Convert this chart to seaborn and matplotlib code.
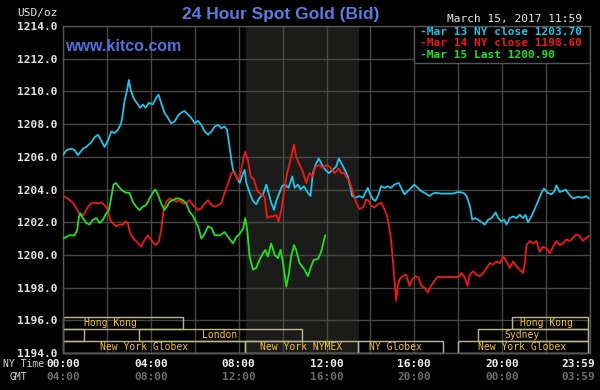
import matplotlib
matplotlib.use('Agg')
import matplotlib.pyplot as plt
import matplotlib.transforms as mtransforms
from matplotlib.patches import Rectangle
import seaborn as sns
import pandas as pd

# ---------------- data (NY time in decimal hours, price USD/oz) ----------------
mar13_hours = [0.00, 0.15, 0.38, 0.53, 0.68, 0.91, 1.06, 1.29, 1.44, 1.59, 1.74, 1.89, 2.05, 2.20, 2.35,
               2.50, 2.65, 2.73, 2.80, 2.92, 3.00, 3.08, 3.21, 3.36, 3.52, 3.64, 3.76, 3.91, 4.09, 4.24,
               4.35, 4.47, 4.62, 4.77, 4.92, 5.08, 5.23, 5.38, 5.53, 5.68, 5.83, 6.00, 6.15, 6.30, 6.45,
               6.61, 6.76, 6.91, 7.06, 7.21, 7.36, 7.47, 7.56, 7.67, 7.74, 7.89, 8.05, 8.20, 8.27, 8.35,
               8.50, 8.65, 8.80, 8.95, 9.11, 9.26, 9.36, 9.48, 9.61, 9.71, 9.86, 9.97, 10.12, 10.27, 10.44,
               10.55, 10.70, 10.82, 10.97, 11.15, 11.27, 11.38, 11.53, 11.65, 11.80, 11.95, 12.11, 12.44,
               12.56, 12.72, 12.87, 12.97, 13.08, 13.17, 13.32, 13.50, 13.66, 13.81, 13.88, 13.99, 14.11,
               14.23, 14.34, 14.49, 14.64, 14.79, 14.94, 15.09, 15.29, 15.40, 15.55, 15.70, 15.85, 16.00,
               16.16, 16.31, 16.53, 16.69, 16.84, 16.99, 17.22, 17.44, 17.75, 18.00, 18.23, 18.38, 18.53,
               18.64, 18.76, 18.91, 19.06, 19.21, 19.36, 19.52, 19.70, 19.82, 19.97, 20.09, 20.20, 20.35,
               20.50, 20.65, 20.80, 20.95, 21.06, 21.18, 21.33, 21.48, 21.64, 21.79, 21.91, 22.06, 22.24,
               22.36, 22.47, 22.62, 22.77, 22.89, 23.05, 23.23, 23.45, 23.68, 23.83, 23.95]
mar13_price = [1206.1, 1206.4, 1206.5, 1206.4, 1206.1, 1206.5, 1206.6, 1206.9, 1207.2, 1207.35, 1207.0,
               1206.6, 1207.0, 1207.55, 1207.45, 1207.65, 1208.05, 1208.7, 1209.4, 1210.1, 1210.7, 1210.1,
               1209.6, 1209.3, 1209.0, 1209.2, 1209.0, 1209.3, 1209.2, 1209.6, 1209.8, 1209.3, 1208.7,
               1208.4, 1208.05, 1208.15, 1208.5, 1208.7, 1208.8, 1208.6, 1208.4, 1208.05, 1208.2, 1207.95,
               1207.55, 1207.35, 1207.55, 1207.85, 1207.95, 1207.75, 1207.85, 1207.65, 1206.85, 1205.8,
               1205.2, 1204.8, 1204.4, 1205.0, 1205.2, 1204.4, 1203.8, 1203.3, 1203.1, 1203.5, 1203.7,
               1204.3, 1203.8, 1203.2, 1202.75, 1203.3, 1203.8, 1204.2, 1204.3, 1204.1, 1204.8, 1204.1,
               1204.3, 1204.0, 1204.2, 1203.8, 1203.6, 1205.0, 1205.6, 1205.9, 1205.5, 1205.2, 1205.0,
               1205.4, 1205.9, 1205.5, 1205.1, 1204.8, 1204.2, 1203.6, 1203.5, 1203.6, 1203.5, 1203.9,
               1204.1, 1203.7, 1203.4, 1203.3, 1203.6, 1204.2, 1204.1, 1204.2, 1204.1, 1204.3, 1204.4,
               1204.1, 1203.7, 1203.9, 1204.1, 1204.3, 1204.1, 1203.9, 1203.75, 1203.6, 1203.75, 1203.8,
               1203.75, 1203.75, 1203.75, 1203.85, 1203.8, 1203.6, 1203.0, 1202.15, 1202.25, 1202.15,
               1202.0, 1201.85, 1202.15, 1202.25, 1202.6, 1202.25, 1202.05, 1202.15, 1201.85, 1202.25,
               1202.35, 1202.25, 1202.45, 1202.25, 1202.45, 1202.0, 1202.35, 1202.8, 1203.3, 1203.8,
               1204.05, 1203.8, 1203.7, 1203.85, 1204.25, 1203.85, 1203.9, 1204.0, 1203.7, 1203.45,
               1203.55, 1203.5, 1203.6, 1203.45]

mar14_hours = [0.00, 0.15, 0.30, 0.45, 0.61, 0.76, 0.88, 0.98, 1.14, 1.29, 1.44, 1.59, 1.74, 1.89, 2.05,
               2.15, 2.27, 2.42, 2.58, 2.73, 2.85, 2.95, 3.06, 3.21, 3.36, 3.56, 3.71, 3.86, 4.02, 4.21,
               4.36, 4.47, 4.58, 4.70, 4.85, 5.00, 5.15, 5.30, 5.45, 5.61, 5.76, 5.91, 6.15, 6.30, 6.45,
               6.61, 6.76, 6.91, 7.06, 7.21, 7.36, 7.52, 7.67, 7.82, 7.94, 8.05, 8.20, 8.30, 8.42, 8.55,
               8.70, 8.85, 9.03, 9.18, 9.30, 9.41, 9.56, 9.71, 9.82, 9.94, 10.06, 10.21, 10.39, 10.52,
               10.62, 10.77, 10.92, 11.08, 11.23, 11.38, 11.50, 11.68, 11.83, 11.98, 12.14, 12.37, 12.44,
               12.56, 12.67, 12.82, 12.93, 13.02, 13.12, 13.23, 13.35, 13.50, 13.66, 13.81, 13.93, 14.03,
               14.19, 14.34, 14.49, 14.64, 14.75, 14.84, 14.94, 15.02, 15.09, 15.17, 15.25, 15.32, 15.47,
               15.62, 15.78, 15.90, 16.05, 16.20, 16.31, 16.46, 16.61, 16.76, 16.91, 17.06, 17.37, 17.75,
               18.00, 18.15, 18.30, 18.42, 18.53, 18.68, 18.83, 18.98, 19.14, 19.29, 19.44, 19.59, 19.74,
               19.89, 20.05, 20.20, 20.35, 20.50, 20.65, 20.80, 20.95, 21.03, 21.11, 21.26, 21.41, 21.56,
               21.71, 21.86, 22.02, 22.17, 22.32, 22.47, 22.62, 22.77, 22.92, 23.08, 23.23, 23.38, 23.53,
               23.68, 23.83, 23.95]
mar14_price = [1203.6, 1203.5, 1203.35, 1203.2, 1202.85, 1202.45, 1202.35, 1202.55, 1202.95, 1203.15,
               1203.2, 1203.15, 1203.2, 1203.05, 1202.75, 1202.15, 1201.95, 1201.75, 1201.85, 1201.85,
               1202.05, 1201.95, 1201.3, 1201.0, 1200.8, 1200.5, 1200.9, 1201.2, 1200.9, 1200.6, 1200.8,
               1201.5, 1202.75, 1203.25, 1203.45, 1203.35, 1203.25, 1203.35, 1203.15, 1203.15, 1203.35,
               1203.05, 1202.75, 1202.85, 1203.15, 1203.35, 1203.05, 1202.95, 1203.05, 1203.15, 1203.8,
               1204.4, 1205.0, 1205.1, 1204.6, 1204.7, 1205.8, 1206.3, 1205.8, 1204.8, 1204.6, 1203.9,
               1203.7, 1203.55, 1202.25, 1202.35, 1202.35, 1202.45, 1202.05, 1202.75, 1203.8, 1205.0,
               1206.0, 1206.75, 1206.0, 1205.5, 1205.1, 1204.4, 1205.0, 1204.8, 1205.4, 1205.5, 1205.3,
               1205.5, 1205.4, 1205.0, 1205.1, 1205.3, 1205.0, 1205.0, 1204.7, 1204.6, 1204.2, 1203.7,
               1203.2, 1202.8, 1202.9, 1203.4, 1203.3, 1203.0, 1202.9, 1203.1, 1203.2, 1202.8, 1202.4,
               1201.8, 1200.95, 1199.7, 1198.5, 1197.2, 1198.1, 1198.5, 1198.7, 1198.8, 1198.1, 1198.5,
               1198.7, 1198.6, 1198.1, 1198.0, 1197.7, 1198.1, 1198.4, 1198.65, 1198.65, 1198.65, 1198.65,
               1198.9, 1198.6, 1198.1, 1198.8, 1199.0, 1198.8, 1198.7, 1198.9, 1199.2, 1199.5, 1199.4,
               1199.6, 1199.5, 1199.9, 1199.6, 1199.2, 1199.6, 1199.3, 1199.1, 1198.9, 1199.5, 1200.6,
               1200.85, 1200.7, 1200.85, 1200.2, 1200.5, 1200.4, 1200.1, 1200.5, 1200.85, 1200.6, 1200.7,
               1200.95, 1200.85, 1201.05, 1201.25, 1201.15, 1200.85, 1201.05, 1201.15]

mar15_hours = [0.00, 0.15, 0.30, 0.53, 0.64, 0.73, 0.79, 0.91, 1.06, 1.21, 1.36, 1.52, 1.67, 1.82, 1.97,
               2.09, 2.20, 2.30, 2.42, 2.58, 2.73, 2.88, 3.03, 3.18, 3.33, 3.48, 3.64, 3.79, 3.94, 4.09,
               4.20, 4.32, 4.47, 4.62, 4.73, 4.85, 5.00, 5.15, 5.30, 5.45, 5.61, 5.76, 5.91, 6.15, 6.30,
               6.45, 6.61, 6.76, 6.91, 7.14, 7.36, 7.52, 7.74, 7.89, 8.05, 8.20, 8.30, 8.39, 8.50, 8.65,
               8.80, 8.95, 9.11, 9.21, 9.33, 9.48, 9.64, 9.79, 9.91, 10.02, 10.17, 10.29, 10.39, 10.52,
               10.62, 10.77, 11.00, 11.15, 11.30, 11.42, 11.61, 11.76, 11.94]
mar15_price = [1201.0, 1201.1, 1201.2, 1201.2, 1201.5, 1202.35, 1202.55, 1202.25, 1201.95, 1201.85,
               1202.15, 1202.25, 1201.95, 1202.15, 1202.55, 1202.75, 1203.55, 1204.3, 1204.4, 1204.1,
               1203.9, 1203.8, 1203.8, 1203.25, 1202.95, 1202.75, 1202.95, 1203.05, 1203.45, 1203.8,
               1204.0, 1203.7, 1203.15, 1202.75, 1202.95, 1203.25, 1203.35, 1203.45, 1203.45, 1203.35,
               1203.15, 1202.65, 1202.4, 1201.75, 1201.0, 1201.3, 1201.75, 1201.65, 1201.2, 1201.2,
               1201.4, 1201.1, 1200.7, 1201.1, 1201.3, 1201.6, 1202.25, 1201.5, 1199.9, 1199.1, 1199.2,
               1199.7, 1200.1, 1200.3, 1199.9, 1200.7, 1200.0, 1199.8, 1200.3, 1199.5, 1198.05, 1198.9,
               1199.9, 1200.6, 1200.3, 1199.5, 1199.1, 1198.7, 1199.3, 1199.7, 1199.75, 1200.2, 1201.2]

series_names = ['Mar 13', 'Mar 14', 'Mar 15']
series_colors = ['#22c4e8', '#f01818', '#22e022']
legend_labels = ['-Mar 13 NY close 1203.70', '-Mar 14 NY close 1198.60', '-Mar 15 Last 1200.90']

y_ticks = [1194, 1196, 1198, 1200, 1202, 1204, 1206, 1208, 1210, 1212, 1214]
ny_tick_hours = [0, 4, 8, 12, 16, 20, 23.45]
ny_tick_labels = ['00:00', '04:00', '08:00', '12:00', '16:00', '20:00', '23:59']
gmt_tick_labels = ['04:00', '08:00', '12:00', '16:00', '20:00', '00:00', '03:59']

nymex_start, nymex_end = 8.33, 13.5

# sessions: (row, start, end, label, label_x)
session_row = [0, 0, 1, 1, 1, 2, 2, 2, 2]
session_start = [0.0, 20.45, 0.0, 3.45, 18.9, 0.0, 8.27, 13.45, 18.0]
session_end = [5.45, 23.9, 0.95, 10.9, 23.9, 8.27, 13.45, 17.3, 23.9]
session_label = ['Hong Kong', 'Hong Kong', '', 'London', 'Sydney', 'New York Globex',
                 'New York NYMEX', 'NY Globex', 'New York Globex']
session_label_x = [2.15, 22.0, 0.5, 7.15, 20.9, 3.7, 10.85, 15.15, 20.9]

# ---------------- style ----------------
sns.set_style('dark', {'axes.facecolor': 'black', 'figure.facecolor': 'black',
                       'grid.color': '#484848', 'axes.edgecolor': '#555555'})
plt.rcParams['font.family'] = ['DejaVu Sans Mono', 'DejaVu Sans']

fig = plt.figure(figsize=(6, 3.9), dpi=100, facecolor='black')
ax = fig.add_axes([63 / 600, 1 - 353 / 390, 527 / 600, 327 / 390])
ax.set_facecolor('black')

frames = []
for name, h, p in zip(series_names, [mar13_hours, mar14_hours, mar15_hours],
                      [mar13_price, mar14_price, mar15_price]):
    frames.append(pd.DataFrame({'hour': h, 'price': p, 'series': name}))
df = pd.concat(frames, ignore_index=True)

ax.axvspan(nymex_start, nymex_end, color='#1b1c19', zorder=0.1, lw=0)

sns.lineplot(data=df, x='hour', y='price', hue='series', hue_order=series_names,
             palette=series_colors, estimator=None, sort=False, legend=False,
             linewidth=1.3, ax=ax, zorder=3)

ax.set_xlim(0, 24)
ax.set_ylim(1194, 1214)
ax.set_xticks(range(0, 25, 2))
ax.set_xticklabels([])
ax.set_yticks(y_ticks)
ax.set_yticklabels([f'{v:.1f}' for v in y_ticks], color='#e6e6e6', fontsize=8, fontweight='bold')
ax.tick_params(axis='both', length=0)
ax.tick_params(axis='y', pad=4)
ax.grid(True, color='#484848', linewidth=1.0)
ax.set_axisbelow(True)
ax.set_xlabel('')
ax.set_ylabel('')
for s in ax.spines.values():
    s.set_color('#555555')
    s.set_linewidth(1.0)

# legend box
ax.add_patch(Rectangle((16.0, 1211.75), 8.0, 2.25, facecolor='black', edgecolor='#555555',
                       lw=1.0, zorder=1))
for i, (lab, col) in enumerate(zip(legend_labels, series_colors)):
    ax.text(16.27, 1213.63 - i * 0.7, lab, color=col, fontsize=8, fontweight='bold',
            va='center', ha='left', zorder=4)

# sessions
blend = mtransforms.blended_transform_factory(ax.transData, ax.transAxes)
row_h = 0.0367
for r, s0, s1, lab, lx in zip(session_row, session_start, session_end, session_label, session_label_x):
    y0 = (2 - r) * row_h
    ax.add_patch(Rectangle((s0, y0), s1 - s0, row_h, transform=blend, facecolor='none',
                           edgecolor='#bdb68a', lw=1.0, zorder=2, clip_on=False))
    if lab:
        ax.text(lx, y0 + row_h / 2, lab, transform=blend, color='#f0c23c', fontsize=7,
                ha='center', va='center', zorder=4)

# texts
fig.text(0.467, 1 - 15 / 390, '24 Hour Spot Gold (Bid)', color='#5a7be0', fontsize=12.5,
         fontweight='bold', family='Liberation Sans', ha='center', va='center')
ax.text(0.004, 0.936, 'www.kitco.com', transform=ax.transAxes, color='#4f72e0', fontsize=11.5,
        fontweight='bold', family='Liberation Sans', ha='left', va='center', zorder=4)
fig.text(447 / 600, 1 - 19 / 390, 'March 15, 2017 11:59', color='#e8e8e8', fontsize=8,
         ha='left', va='center')
fig.text(58 / 600, 1 - 13 / 390, 'USD/oz', color='#e8e8e8', fontsize=8, ha='right', va='center')
fig.text(3 / 600, 1 - 364 / 390, 'NY Time', color='#d8d8d8', fontsize=7, ha='left', va='center')
fig.text(18 / 600, 1 - 377 / 390, 'GMT', color='#d8d8d8', fontsize=7, ha='center', va='center')

tblend = mtransforms.blended_transform_factory(ax.transData, fig.transFigure)
for h, ny, gmt in zip(ny_tick_hours, ny_tick_labels, gmt_tick_labels):
    ax.text(h, 1 - 364 / 390, ny, transform=tblend, color='#f0f0f0', fontsize=8,
            fontweight='bold', ha='center', va='center', clip_on=False)
    ax.text(h, 1 - 377 / 390, gmt, transform=tblend, color='#6e6e6e', fontsize=8,
            fontweight='bold', ha='center', va='center', clip_on=False)

fig.savefig('out.png', dpi=100, facecolor='black')
